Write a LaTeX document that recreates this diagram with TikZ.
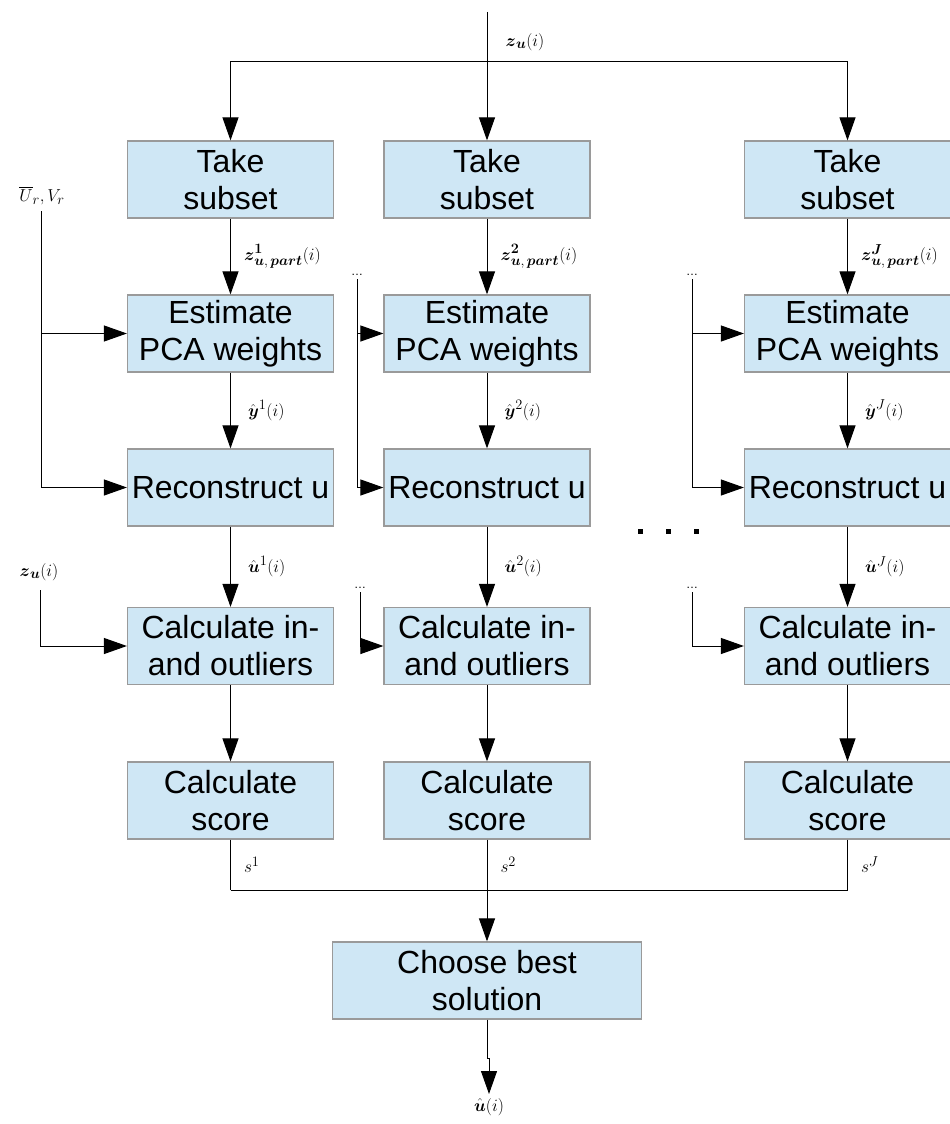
\documentclass[tikz,border=0pt]{standalone}
\usepackage{amsmath}
\usepackage{fontspec}
\setmainfont{Liberation Sans}
\usetikzlibrary{arrows.meta}
\definecolor{boxblue}{HTML}{CFE7F5}
\definecolor{boxedge}{HTML}{9A9A9A}

\begin{document}
\begin{tikzpicture}[x=1pt,y=-1pt,
  stagebox/.style={draw=boxedge, fill=boxblue, line width=1.2pt,
    minimum width=206pt, minimum height=77pt, inner sep=0pt,
    align=center, font=\fontsize{32}{37}\selectfont},
  flow/.style={line width=1pt, -{Triangle[length=23pt,width=16pt]}},
  wire/.style={line width=1pt},
  sig/.style={font=\fontsize{19}{22}\selectfont, inner sep=1pt},
  more/.style={font=\fontsize{12}{14}\selectfont, inner sep=0pt, anchor=south}]

\useasboundingbox (0,0) rectangle (950,1124);

% processing columns: one per subset
\foreach \col/\cx in {1/230.5,2/487,3/847.5}{
  \node[stagebox] (take\col)  at (\cx,179.5) {Take\\subset};
  \node[stagebox] (est\col)   at (\cx,333.5) {Estimate\\PCA weights};
  \node[stagebox] (rec\col)   at (\cx,487.5) {Reconstruct u};
  \node[stagebox] (cal\col)   at (\cx,646)   {Calculate in-\\and outliers};
  \node[stagebox] (score\col) at (\cx,800.5) {Calculate\\score};
}
\node[stagebox, minimum width=309pt] (choose) at (487,980.5) {Choose best\\solution};

% input distribution
\coordinate (topin) at (487,12);
\coordinate (fork) at (487,62);
\draw[flow] (topin) -- (take2.north);
\draw[flow] (fork) -| (take1.north);
\draw[flow] (fork) -| (take3.north);
\node[sig] (zin) at (525,42) {$\boldsymbol{z}_{\boldsymbol{u}}(i)$};

% signals along each column
\coordinate (busy) at (0,890);
\foreach \col/\lab in {1/1,2/2,3/J}{
  \draw[flow] (take\col) -- node[sig,right,xshift=12pt]
    {$\boldsymbol{z}^{\boldsymbol{\lab}}_{\boldsymbol{u},\,\boldsymbol{part}}(i)$} (est\col);
  \draw[flow] (est\col) -- node[sig,right,xshift=16pt]
    {$\hat{\boldsymbol{y}}^{\lab}(i)$} (rec\col);
  \draw[flow] (rec\col) -- node[sig,right,xshift=16pt]
    {$\hat{\boldsymbol{u}}^{\lab}(i)$} (cal\col);
  \draw[flow] (cal\col) -- (score\col);
  \coordinate (bus\col) at (score\col.south |- busy);
  \draw[wire] (score\col.south) -- node[sig,right,xshift=12pt] {$s^{\lab}$} (bus\col);
}

% collect scores
\draw[wire] (bus1) -- (bus3);
\draw[flow] (bus2) -- (choose.north);

% final output
\coordinate (jog) at (489,1058);
\coordinate (uout) at (489,1094);
\draw[flow] (choose.south) |- (jog) -- (uout);
\node[sig,below=3pt] (uhat) at (uout) {$\hat{\boldsymbol{u}}(i)$};

% side inputs of the first column
\node[sig] (urv) at (42,196) {$\overline{U}_r, V_r$};
\coordinate (urvfoot) at (41,211);
\draw[flow] (urvfoot) |- (rec1.west);
\draw[flow] (urvfoot |- est1.west) -- (est1.west);

\node[sig] (zside) at (39,572) {$\boldsymbol{z}_{\boldsymbol{u}}(i)$};
\coordinate (zfoot) at (40,590);
\draw[flow] (zfoot) |- (cal1.west);

% side inputs of the other columns
\foreach \col/\ux/\lx in {2/357/360,3/692/692}{
  \node[more] (dotsA\col) at (\ux,276) {\dots};
  \coordinate (feedA\col) at (\ux,279);
  \draw[flow] (feedA\col) |- (rec\col.west);
  \draw[flow] (feedA\col |- est\col.west) -- (est\col.west);
  \node[more] (dotsB\col) at (\lx,589) {\dots};
  \coordinate (feedB\col) at (\lx,592);
  \draw[flow] (feedB\col) |- (cal\col.west);
}

% omitted columns
\foreach \x in {640,668,696}
  \fill (\x-2.5,528.5) rectangle (\x+2.5,533.5);

\end{tikzpicture}
\end{document}
